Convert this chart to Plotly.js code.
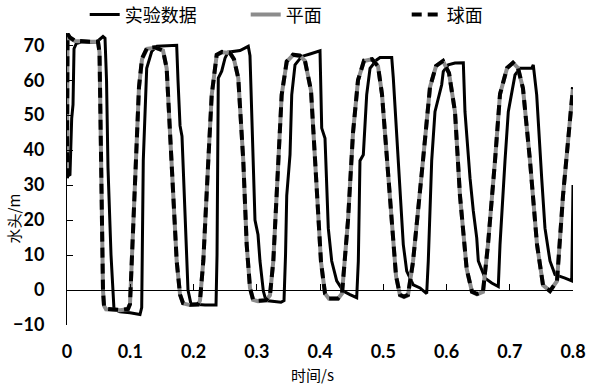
<!DOCTYPE html>
<html>
<head>
<meta charset="utf-8">
<script src="https://cdn.plot.ly/plotly-3.0.1.min.js"></script>
<style>html,body{margin:0;padding:0;background:#fff;}#chart{width:590px;height:386px;}</style>
</head>
<body>
<div id="chart"></div>
<script>
// Experimental data (实验数据)
var expT = [0, 0.0047, 0.0074, 0.0095, 0.0111, 0.0147, 0.0237, 0.0364, 0.0474, 0.0569, 0.0601, 0.0625, 0.0648, 0.0696, 0.0743, 0.0838, 0.0996, 0.1154, 0.1181, 0.1206, 0.1260, 0.1339, 0.1423, 0.1628, 0.1734, 0.1755, 0.1787, 0.1818, 0.1866, 0.1913, 0.1960, 0.2182, 0.2356, 0.2372, 0.2392, 0.2446, 0.2498, 0.2545, 0.2735, 0.2866, 0.2893, 0.2972, 0.3020, 0.3051, 0.3104, 0.3146, 0.3383, 0.3431, 0.3455, 0.3474, 0.3526, 0.3553, 0.3605, 0.3711, 0.3842, 0.4000, 0.4027, 0.4079, 0.4131, 0.4185, 0.4264, 0.4368, 0.4474, 0.4580, 0.4606, 0.4632, 0.4685, 0.4738, 0.4791, 0.4896, 0.4949, 0.5134, 0.5159, 0.5238, 0.5317, 0.5371, 0.5475, 0.5581, 0.5687, 0.5712, 0.5766, 0.5818, 0.5924, 0.5949, 0.6028, 0.6134, 0.6266, 0.6292, 0.6372, 0.6424, 0.6478, 0.6503, 0.6609, 0.6715, 0.6819, 0.6846, 0.6899, 0.6925, 0.6977, 0.7031, 0.7083, 0.7162, 0.7347, 0.7372, 0.7426, 0.7505, 0.7557, 0.7636, 0.7715, 0.7874, 0.7980, 0.8000];
var expH = [32.5, 33, 49, 53, 69, 70.5, 71, 70.8, 71, 72.5, 72, 60, 35, 10, -5.5, -6.2, -6.5, -7, -5, 37, 63.4, 68.2, 69.7, 69.8, 70, 60, 47, 44, 20, 0, -4, -4.3, -4.3, 10, 60.6, 62.6, 66.3, 68, 68.5, 69.7, 67, 20, 15.8, 8.3, -0.3, -3, -3.5, -3, 10, 27, 38.7, 55.8, 64.4, 66.8, 67.5, 68.4, 46.3, 43.4, 17.7, 8.3, 2.6, -0.3, -1.3, -2.2, 8.3, 37, 38.7, 55.8, 63.4, 65.8, 66.5, 66.5, 60.6, 37, 13, 5.4, 1.5, 0.6, -1, 8.3, 37, 51, 58.7, 62.5, 64.4, 64.9, 65, 51, 32, 22.6, 14.9, 8.3, 3.4, 2, 1, 13, 27, 37, 51, 55.8, 61.5, 63.4, 63.4, 64.4, 55.8, 32, 17.7, 8.3, 4.4, 3.4, 2.6, 30];

// Plane model (平面)
var planeT = [0, 0.0008, 0.0047, 0.0126, 0.0364, 0.0490, 0.0514, 0.0538, 0.0569, 0.0585, 0.0617, 0.0838, 0.0964, 0.0996, 0.1028, 0.1091, 0.1138, 0.1186, 0.1265, 0.1391, 0.1518, 0.1576, 0.1655, 0.1734, 0.1787, 0.1834, 0.1945, 0.2071, 0.2103, 0.2155, 0.2234, 0.2288, 0.2367, 0.2451, 0.2577, 0.2640, 0.2708, 0.2787, 0.2841, 0.2893, 0.2941, 0.3020, 0.3146, 0.3209, 0.3262, 0.3341, 0.3394, 0.3474, 0.3573, 0.3684, 0.3763, 0.3858, 0.3937, 0.4016, 0.4079, 0.4142, 0.4285, 0.4348, 0.4443, 0.4522, 0.4601, 0.4696, 0.4822, 0.4917, 0.4980, 0.5107, 0.5202, 0.5265, 0.5328, 0.5391, 0.5470, 0.5628, 0.5739, 0.5834, 0.5945, 0.6040, 0.6134, 0.6213, 0.6319, 0.6403, 0.6482, 0.6577, 0.6656, 0.6767, 0.6846, 0.6957, 0.7051, 0.7130, 0.7209, 0.7320, 0.7431, 0.7526, 0.7636, 0.7747, 0.7842, 0.8000];
var planeH = [32, 73, 72, 71.2, 71, 71, 68, 35, 0, -4.5, -5.5, -5.8, -5.5, -4, 10, 37, 58, 66, 69, 69.3, 68.5, 63.4, 37, 8.3, -1.3, -3.8, -4.3, -4.2, -3, 8.3, 37, 55.8, 67.2, 68, 67.8, 66, 60.6, 37, 13, 0.6, -2.8, -3.2, -3, -1.5, 8.3, 37, 55.8, 65.3, 67.2, 67, 65.5, 57, 33, 8, -1, -2.5, -2.5, -1, 20, 45, 60, 65.5, 66, 64, 56, 27, 4, -1.5, -2, -1.5, 8, 37, 58, 64, 65.5, 62, 51, 27, 6, -0.5, -1.2, -0.5, 13, 37, 56, 63.4, 65, 63.5, 57.7, 37, 13, 1.4, -0.3, 2.6, 27, 58];

// Sphere model (球面)
var sphereT = [0, 0.0008, 0.0047, 0.0126, 0.0364, 0.0490, 0.0514, 0.0538, 0.0569, 0.0585, 0.0617, 0.0838, 0.0964, 0.0996, 0.1028, 0.1091, 0.1138, 0.1186, 0.1265, 0.1391, 0.1518, 0.1576, 0.1655, 0.1734, 0.1787, 0.1834, 0.1945, 0.2071, 0.2103, 0.2155, 0.2234, 0.2288, 0.2367, 0.2451, 0.2577, 0.2640, 0.2708, 0.2787, 0.2841, 0.2893, 0.2941, 0.3020, 0.3146, 0.3209, 0.3262, 0.3341, 0.3394, 0.3474, 0.3573, 0.3684, 0.3763, 0.3858, 0.3937, 0.4016, 0.4079, 0.4142, 0.4285, 0.4348, 0.4443, 0.4522, 0.4601, 0.4696, 0.4822, 0.4917, 0.4980, 0.5107, 0.5202, 0.5265, 0.5328, 0.5391, 0.5470, 0.5628, 0.5739, 0.5834, 0.5945, 0.6040, 0.6134, 0.6213, 0.6319, 0.6403, 0.6482, 0.6577, 0.6656, 0.6767, 0.6846, 0.6957, 0.7051, 0.7130, 0.7209, 0.7320, 0.7431, 0.7526, 0.7636, 0.7747, 0.7842, 0.8000];
var sphereH = [32, 73.3, 72.2, 71.3, 71, 71, 68, 35, 0, -4.5, -5.4, -5.7, -5.4, -4, 10, 37, 58, 66.2, 69.2, 69.4, 68.5, 63.4, 37, 8.3, -1.3, -3.7, -4.2, -4.1, -3, 8.3, 37, 55.8, 67.3, 68.1, 67.8, 66, 60.6, 37, 13, 0.6, -2.7, -3.1, -2.9, -1.5, 8.3, 37, 55.8, 65.4, 67.3, 67, 65.5, 57, 33, 8, -1, -2.4, -2.4, -1, 20, 45, 60, 65.6, 66, 64, 56, 27, 4, -1.4, -1.9, -1.4, 8, 37, 58, 64.1, 65.5, 62, 51, 27, 6, -0.5, -1.1, -0.5, 13, 37, 56, 63.5, 65, 63.5, 57.7, 37, 13, 1.4, -0.3, 2.6, 27, 58];

var names = ['实验数据', '平面', '球面'];
var xTickVals = [0, 0.1, 0.2, 0.3, 0.4, 0.5, 0.6, 0.7, 0.8];
var xTickText = ['0', '0.1', '0.2', '0.3', '0.4', '0.5', '0.6', '0.7', '0.8'];
var yTickVals = [-10, 0, 10, 20, 30, 40, 50, 60, 70];
var xTitle = '时间/s';
var yTitle = '水头/m';

var tickFont = {family: 'Lato, "Liberation Sans", sans-serif', size: 18, color: '#000', weight: 'bold'};
var cjkFont = '"Noto Sans CJK SC", "Noto Sans", sans-serif';

var traces = [
  {x: expT, y: expH, name: names[0], mode: 'lines', line: {color: '#000000', width: 3}, xaxis: 'x', yaxis: 'y'},
  {x: planeT, y: planeH, name: names[1], mode: 'lines', line: {color: '#8c8c8c', width: 4}, xaxis: 'x', yaxis: 'y'},
  {x: sphereT, y: sphereH, name: names[2], mode: 'lines', line: {color: '#000000', width: 4, dash: '10px,6px'}, xaxis: 'x', yaxis: 'y'},
  {x: [0], y: [null], mode: 'lines', showlegend: false, hoverinfo: 'skip', xaxis: 'x2', yaxis: 'y'}
];

var yMin = -10, yMax = 73.5;
var layout = {
  width: 590, height: 386,
  margin: {l: 67, r: 17, t: 33, b: 61, pad: 0, autoexpand: false},
  paper_bgcolor: '#ffffff', plot_bgcolor: '#ffffff',
  showlegend: true,
  legend: {
    orientation: 'h', x: 0.035, xanchor: 'left', y: 1.062, yanchor: 'middle',
    font: {family: cjkFont, size: 18, color: '#000'},
    entrywidth: 116, entrywidthmode: 'pixels', bgcolor: 'rgba(0,0,0,0)'
  },
  xaxis: {
    range: [0, 0.8], showgrid: false, zeroline: false, showline: false, ticks: '',
    tickvals: xTickVals, ticktext: xTickText, tickfont: tickFont, ticklabelstandoff: 14
  },
  xaxis2: {
    overlaying: 'x', anchor: 'free', position: (0 - yMin) / (yMax - yMin), side: 'bottom',
    range: [0, 0.8], showgrid: false, zeroline: false, showline: true, linecolor: '#000', linewidth: 1,
    ticks: 'inside', ticklen: 6, tickwidth: 1, tickcolor: '#000',
    tickvals: xTickVals.slice(1), showticklabels: false
  },
  yaxis: {
    range: [yMin, yMax], showgrid: false, zeroline: false, showline: true, linecolor: '#000', linewidth: 1,
    ticks: 'inside', ticklen: 6, tickwidth: 1, tickcolor: '#000',
    tickvals: yTickVals, tickfont: tickFont, ticklabelstandoff: 18
  },
  annotations: [
    {text: xTitle, xref: 'paper', yref: 'paper', x: 0.486, y: -0.168, xanchor: 'center', yanchor: 'middle', showarrow: false, font: {family: cjkFont, size: 15, color: '#000'}},
    {text: yTitle, xref: 'paper', yref: 'paper', x: -0.106, y: 0.366, xanchor: 'center', yanchor: 'middle', textangle: -90, showarrow: false, font: {family: cjkFont, size: 15, color: '#000'}}
  ]
};

Plotly.newPlot('chart', traces, layout, {displayModeBar: false, staticPlot: true});
</script>
</body>
</html>
